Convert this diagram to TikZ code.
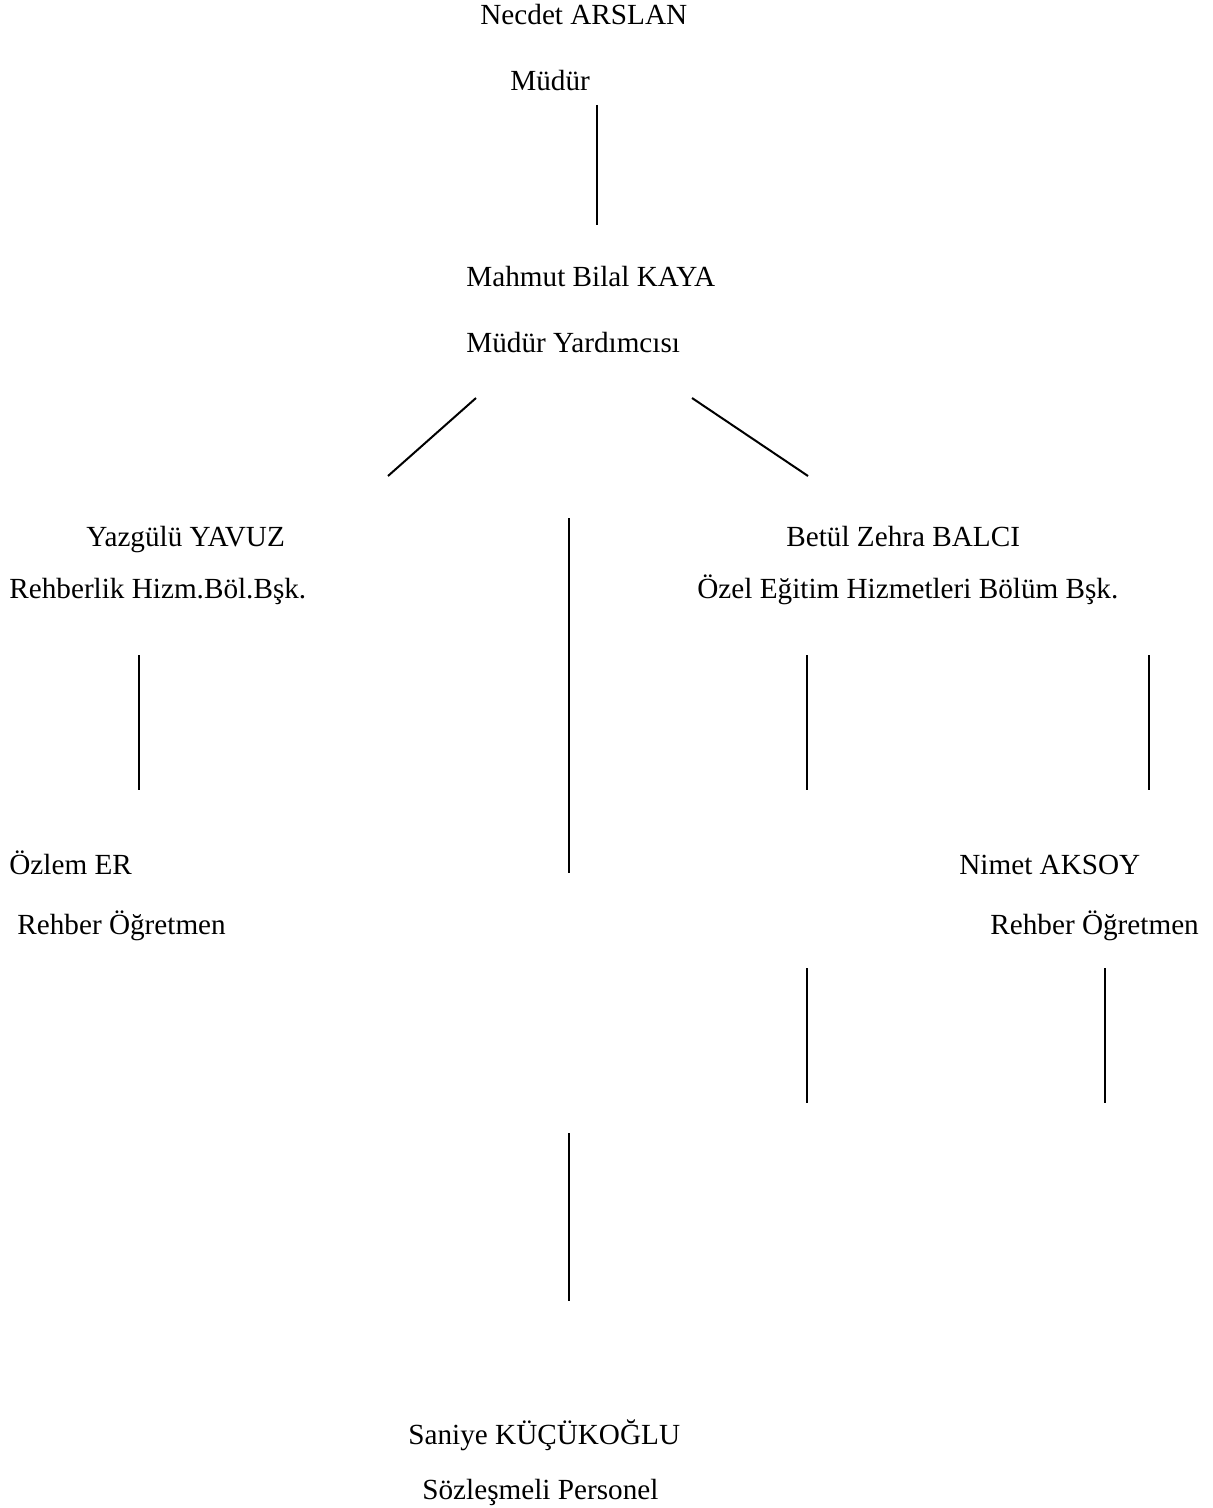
\documentclass[tikz,border=0pt]{standalone}
\usepackage{fontspec}
\setmainfont{Liberation Serif}
\begin{document}
\begin{tikzpicture}[x=0.5pt,y=-0.5pt,
  lbl/.style={anchor=base west,inner sep=0pt,font=\fontsize{14.6}{16}\selectfont},
  conn/.style={draw=black,line width=1pt}]
\useasboundingbox (0,0) rectangle (1213,1508);
% texts
\node[lbl] (n1) at (480,25) {Necdet ARSLAN};
\node[lbl] (n1t) at (510,91) {Müdür};
\node[lbl] (n2) at (466,287) {Mahmut Bilal KAYA};
\node[lbl] (n2t) at (466,352) {Müdür Yardımcısı};
\node[lbl] (n3) at (86,546) {Yazgülü YAVUZ};
\node[lbl] (n3t) at (9,598) {Rehberlik Hizm.Böl.Bşk.};
\node[lbl] (n4) at (786,546) {Betül Zehra BALCI};
\node[lbl] (n4t) at (697,598) {Özel Eğitim Hizmetleri Bölüm Bşk.};
\node[lbl] (n5) at (9,874) {Özlem ER};
\node[lbl] (n5t) at (17,934) {Rehber Öğretmen};
\node[lbl] (n6) at (959,874) {Nimet AKSOY};
\node[lbl] (n6t) at (990,934) {Rehber Öğretmen};
\node[lbl] (n7) at (408,1444) {Saniye KÜÇÜKOĞLU};
\node[lbl] (n7t) at (422,1499) {Sözleşmeli Personel};
% line end points
\coordinate (a1) at (597,105); \coordinate (a2) at (597,225);
\coordinate (b1) at (476,398); \coordinate (b2) at (388,476);
\coordinate (c1) at (692,398); \coordinate (c2) at (808,476);
\coordinate (d1) at (569,518); \coordinate (d2) at (569,873);
\coordinate (e1) at (139,655); \coordinate (e2) at (139,790);
\coordinate (f1) at (807,655); \coordinate (f2) at (807,790);
\coordinate (g1) at (1149,655); \coordinate (g2) at (1149,790);
\coordinate (h1) at (807,968); \coordinate (h2) at (807,1103);
\coordinate (i1) at (1105,968); \coordinate (i2) at (1105,1103);
\coordinate (j1) at (569,1133); \coordinate (j2) at (569,1301);
\draw[conn] (a1) -- (a2);
\draw[conn] (b1) -- (b2);
\draw[conn] (c1) -- (c2);
\draw[conn] (d1) -- (d2);
\draw[conn] (e1) -- (e2);
\draw[conn] (f1) -- (f2);
\draw[conn] (g1) -- (g2);
\draw[conn] (h1) -- (h2);
\draw[conn] (i1) -- (i2);
\draw[conn] (j1) -- (j2);
\end{tikzpicture}
\end{document}
